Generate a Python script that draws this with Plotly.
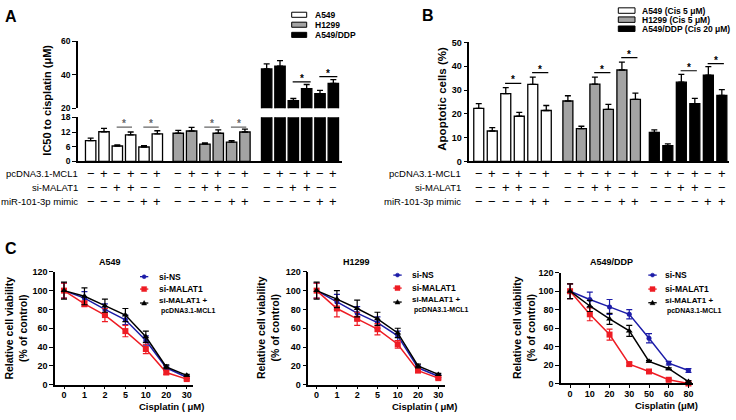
import plotly.graph_objects as go

W, H = 736, 420
F = "Arial, Liberation Sans, sans-serif"


def px(x):
    return x / W


def py(y):
    return 1 - y / H


# ---------------- data ----------------
# Panel A: IC50 to cisplatin (uM)
a_a549 = [8.5, 12.1, 6.3, 10.8, 5.9, 11.2]
a_a549_err = [1.0, 1.4, 0.5, 1.2, 0.5, 1.3]
a_h1299 = [11.5, 12.4, 7.1, 11.5, 7.9, 12.0]
a_h1299_err = [1.2, 1.5, 0.5, 1.4, 0.6, 1.2]
a_ddp = [43.5, 45.2, 24.5, 31.7, 28.7, 34.8]
a_ddp_err = [3.1, 3.3, 1.3, 2.5, 2.0, 2.3]

# Panel B: apoptotic cells (%)
b_a549 = [22.3, 12.8, 28.5, 19.0, 32.4, 21.4]
b_a549_err = [2.0, 1.4, 2.5, 1.6, 3.0, 2.1]
b_h1299 = [25.4, 13.8, 32.5, 21.9, 38.4, 26.1]
b_h1299_err = [2.2, 1.0, 2.9, 2.1, 3.3, 2.6]
b_ddp = [12.2, 6.7, 33.3, 24.3, 36.2, 27.7]
b_ddp_err = [1.1, 0.7, 3.3, 2.2, 3.6, 2.5]

# treatment rows
row_labels = ["pcDNA3.1-MCL1", "si-MALAT1", "miR-101-3p mimic"]
row_mcl1 = ["\u2212", "+", "\u2212", "+", "\u2212", "+"]
row_malat = ["\u2212", "\u2212", "+", "+", "\u2212", "\u2212"]
row_mir = ["\u2212", "\u2212", "\u2212", "\u2212", "+", "+"]

# Panel C: relative cell viability (% of control)
c_doses_ab = ["0", "1", "2", "5", "10", "20", "30"]
c_doses_ddp = ["0", "10", "20", "30", "50", "60", "80"]

c1_ns = [100, 92, 80, 69, 47, 18, 8]
c1_ns_err = [8, 7, 6, 5, 5, 2, 1.5]
c1_mal = [100, 86, 74, 57, 38, 13, 6]
c1_mal_err = [8, 3, 7, 6, 5, 2, 1]
c1_mcl = [100, 94, 84, 74, 51, 19, 10]
c1_mcl_err = [9, 9, 7, 7, 6, 2, 1]

c2_ns = [100, 88, 76, 66, 52, 18, 9]
c2_ns_err = [8, 8, 7, 6, 5, 2, 1.5]
c2_mal = [100, 81, 70, 59, 43, 15, 7]
c2_mal_err = [8, 9, 7, 6, 4, 2, 1]
c2_mcl = [100, 91, 81, 70, 55, 20, 11]
c2_mcl_err = [9, 9, 9, 7, 5, 2, 1]

c3_ns = [100, 91, 83, 75, 49, 22, 14]
c3_ns_err = [8, 8, 8, 5, 5, 2, 2]
c3_mal = [100, 75, 53, 21, 13, 4, 0]
c3_mal_err = [8, 7, 6, 2, 1, 1, 1]
c3_mcl = [100, 84, 70, 57, 24, 16, 2]
c3_mcl_err = [8, 6, 6, 6, 1, 1, 1]

# ---------------- figure ----------------
fig = go.Figure()
AX = dict(showline=True, linecolor="black", linewidth=1.5, showgrid=False,
          zeroline=False, ticks="outside", tickcolor="black", ticklen=4,
          tickwidth=1.3, tickfont=dict(family=F, size=9, color="black", weight="bold"))

groupA = [0, 6.57, 13.2]
groupB = [0, 6.6, 13.0]
white, gray, black = "white", "#a3a3a3", "black"


def bar(xs, ys, errs, color, xa, ya, width):
    kw = {}
    if errs is not None:
        kw["error_y"] = dict(type="data", array=errs, arrayminus=[0] * len(errs),
                             symmetric=False, color="black", thickness=1.3, width=3)
    return go.Bar(x=xs, y=ys, width=width, marker=dict(color=color, line=dict(color="black", width=1.3)),
                  xaxis=xa, yaxis=ya, showlegend=False, **kw)


def xs_for(off):
    return [off + i for i in range(6)]


# Panel A bars (lower segment y, upper segment y2)
fig.add_trace(bar(xs_for(groupA[0]), a_a549, a_a549_err, white, "x", "y", 0.78))
fig.add_trace(bar(xs_for(groupA[1]), a_h1299, a_h1299_err, gray, "x", "y", 0.78))
fig.add_trace(bar(xs_for(groupA[2]), a_ddp, None, black, "x", "y", 0.78))
fig.add_trace(bar(xs_for(groupA[2]), a_ddp, a_ddp_err, black, "x", "y2", 0.78))

# Panel B bars
fig.add_trace(bar(xs_for(groupB[0]), b_a549, b_a549_err, white, "x2", "y3", 0.74))
fig.add_trace(bar(xs_for(groupB[1]), b_h1299, b_h1299_err, gray, "x2", "y3", 0.74))
fig.add_trace(bar(xs_for(groupB[2]), b_ddp, b_ddp_err, black, "x2", "y3", 0.74))

BLUE, RED = "#1c1ca8", "#ee1c24"


def curve(xs, ys, errs, color, symbol, size, xa, ya):
    return go.Scatter(x=xs, y=ys, mode="lines+markers", xaxis=xa, yaxis=ya, cliponaxis=False,
                      line=dict(color=color, width=1.5),
                      marker=dict(symbol=symbol, size=size, color=color),
                      error_y=dict(type="data", array=errs, color=color, thickness=1.2, width=3),
                      showlegend=False)


for (xa, ya, doses, ns, nse, mal, male, mcl, mcle) in [
    ("x3", "y4", c_doses_ab, c1_ns, c1_ns_err, c1_mal, c1_mal_err, c1_mcl, c1_mcl_err),
    ("x4", "y5", c_doses_ab, c2_ns, c2_ns_err, c2_mal, c2_mal_err, c2_mcl, c2_mcl_err),
    ("x5", "y6", c_doses_ddp, c3_ns, c3_ns_err, c3_mal, c3_mal_err, c3_mcl, c3_mcl_err),
]:
    fig.add_trace(curve(doses, ns, nse, BLUE, "circle", 5, xa, ya))
    fig.add_trace(curve(doses, mal, male, RED, "square", 6, xa, ya))
    fig.add_trace(curve(doses, mcl, mcle, "black", "triangle-up", 6, xa, ya))

# ---------------- axes ----------------
noticks = dict(AX, ticks="", showticklabels=False)
CX = dict(AX, type="category", ticklen=3, ticklabelstandoff=-2)
fig.update_layout(
    xaxis=dict(noticks, domain=[px(78), px(342)], range=[-0.95, 18.85], anchor="y"),
    yaxis=dict(AX, domain=[py(160.3), py(115)], range=[0, 18], tickvals=[0, 6, 12, 18], anchor="x",
               tickfont=dict(family=F, size=8.5, color="black", weight="bold")),
    yaxis2=dict(AX, domain=[py(105.7), py(37.3)], range=[20, 60], tickvals=[20, 40, 60], anchor="x",
                tickfont=dict(family=F, size=8.5, color="black", weight="bold")),
    xaxis2=dict(noticks, domain=[px(469.3), px(729)], range=[-0.70, 18.53], anchor="y3"),
    yaxis3=dict(AX, domain=[py(160.3), py(38.3)], range=[0, 50], dtick=10, anchor="x2"),
    xaxis3=dict(CX, domain=[px(55), px(193.3)], range=[-0.44, 6.32], anchor="y4"),
    yaxis4=dict(AX, domain=[py(389), py(273.3)], range=[0, 120], dtick=20, anchor="x3"),
    xaxis4=dict(CX, domain=[px(308.3), px(445)], range=[-0.41, 6.33], anchor="y5"),
    yaxis5=dict(AX, domain=[py(389), py(273.3)], range=[0, 120], dtick=20, anchor="x4"),
    xaxis5=dict(CX, domain=[px(561), px(693)], range=[-0.46, 6.23], anchor="y6"),
    yaxis6=dict(AX, domain=[py(387.7), py(274.3)], range=[0, 120], dtick=20, anchor="x5"),
)

ann = []
shapes = []


def text(x, y, s, size=9, bold=True, xanchor="center", yanchor="middle", angle=0, color="black", **kw):
    ann.append(dict(x=x, y=y, xref=kw.pop("xref", "paper"), yref=kw.pop("yref", "paper"), text=s,
                    showarrow=False, xanchor=xanchor, yanchor=yanchor, textangle=angle,
                    font=dict(family=F, size=size, color=color, weight="bold" if bold else "normal"), **kw))


# panel letters
text(px(3), py(12), "A", size=16, xanchor="left")
text(px(420), py(11), "B", size=16, xanchor="left")
text(px(3), py(249), "C", size=16, xanchor="left")

# y-axis titles
text(px(47), py(98), "IC50 to cisplatin (\u03bcM)", size=11, angle=-90)
text(px(442), py(96), "Apoptotic cells (%)", size=11.5, angle=-90)
for cx in (16.5, 268, 524):
    text(px(cx), py(331), "Relative cell viability<br>(% of control)", size=10.5, angle=-90)

# C titles
text(px(110), py(263), "A549", size=9)
text(px(356.7), py(263), "H1299", size=9)
text(px(611.7), py(263), "A549/DDP", size=9)
text(px(171.7), py(411.5), "Cisplatin ( \u03bcM)", size=9.5)
text(px(424), py(411.5), "Cisplatin ( \u03bcM)", size=9.5)
text(px(666.7), py(410.5), "Cisplatin (\u03bcM)", size=9.5)

# treatment rows
rows_y = [172.7, 187.3, 201.3]
rows = [row_mcl1, row_malat, row_mir]
for (xa, groups, lab_x) in [("x", groupA, 80), ("x2", groupB, 462.7)]:
    for r, (lab, signs) in enumerate(zip(row_labels, rows)):
        text(px(lab_x), py(rows_y[r]), lab, size=9.5, bold=False, xanchor="right")
        for off in groups:
            for i, s in enumerate(signs):
                text(off + i, py(rows_y[r]), s, size=13, bold=False, xref=xa)

# legends for A and B
leg_A = ["A549", "H1299", "A549/DDP"]
leg_B = ["A549 (Cis 5 \u03bcM)", "H1299 (Cis 5 \u03bcM)", "A549/DDP (Cis 20 \u03bcM)"]
fills = [white, gray, black]
for i, (la, lb) in enumerate(zip(leg_A, leg_B)):
    ya = [10.0, 20.2, 30.6][i]
    shapes.append(dict(type="rect", xref="paper", yref="paper", x0=px(291.7), x1=px(306.7),
                       y0=py(ya + 2.6), y1=py(ya - 2.6), fillcolor=fills[i], line=dict(color="black", width=1)))
    text(px(313.3), py(ya), la, size=8.5, xanchor="left")
    yb = [5.7, 15.0, 24.3][i]
    shapes.append(dict(type="rect", xref="paper", yref="paper", x0=px(618.3), x1=px(635),
                       y0=py(yb + 2.8), y1=py(yb - 2.8), fillcolor=fills[i], line=dict(color="black", width=1)))
    text(px(640), py(yb), lb, size=8.5, xanchor="left")


# significance brackets
def bracket(xa, ya, x0, x1, y, color="black"):
    shapes.append(dict(type="line", xref=xa, yref=ya, x0=x0, x1=x1, y0=y, y1=y,
                       line=dict(color=color, width=1.2)))
    text((x0 + x1) / 2, y, "*", size=10, xref=xa, yref=ya, yanchor="bottom", yshift=-4, color=color)


for g in (0, 1):
    for i in (2, 4):
        x0 = groupA[g] + i - 0.05
        bracket("x", "y", x0, x0 + 1.15, 14.0, color="#666666")
bracket("x", "y2", groupA[2] + 2 - 0.05, groupA[2] + 3.3, 35.7)
bracket("x", "y2", groupA[2] + 4 - 0.05, groupA[2] + 5.3, 38.9)

b_br = [(0, 2, 32.8), (0, 4, 37.3), (1, 2, 37.3), (1, 4, 43.6), (2, 2, 38.1), (2, 4, 41.1)]
for g, i, y in b_br:
    x0 = groupB[g] + i - 0.05
    bracket("x2", "y3", x0, x0 + 1.2, y)

# C legends
leg_C = ["si-NS", "si-MALAT1", "si-MALAT1 +"]
for (mx0, mx1, tx, rys) in [(140, 148.3, 156.7, (278.3, 291, 305.3)),
                             (393.3, 401.7, 410, (276.7, 290, 304.3)),
                             (648.3, 656.7, 663.3, (276.7, 291, 305))]:
    cols = [BLUE, RED, "black"]
    mc = (mx0 + mx1) / 2
    for k, (lab, col, ry) in enumerate(zip(leg_C, cols, rys)):
        shapes.append(dict(type="line", xref="paper", yref="paper", x0=px(mx0), x1=px(mx1),
                           y0=py(ry), y1=py(ry), line=dict(color=col, width=1.3)))
        if k == 0:
            shapes.append(dict(type="circle", xref="paper", yref="paper", x0=px(mc - 2), x1=px(mc + 2),
                               y0=py(ry + 2), y1=py(ry - 2), fillcolor=col, line=dict(color=col, width=0.5)))
        elif k == 1:
            shapes.append(dict(type="rect", xref="paper", yref="paper", x0=px(mc - 2.5), x1=px(mc + 2.5),
                               y0=py(ry + 2.5), y1=py(ry - 2.5), fillcolor=col, line=dict(color=col, width=0.5)))
        else:
            path = "M {} {} L {} {} L {} {} Z".format(px(mc - 2.5), py(ry + 2), px(mc + 2.5), py(ry + 2),
                                                       px(mc), py(ry - 2.5))
            shapes.append(dict(type="path", xref="paper", yref="paper", path=path, fillcolor=col,
                               line=dict(color=col, width=0.5)))
        if k < 2:
            text(px(tx), py(ry), lab, size=8.5, xanchor="left")
        else:
            text(px(tx), py(ry + 3), lab + "<br><span style='font-size:7px'>\u00a0pcDNA3.1-MCL1</span>",
                 size=8, xanchor="left", align="left")

fig.update_layout(width=W, height=H, margin=dict(l=0, r=0, t=0, b=0), paper_bgcolor="white",
                  plot_bgcolor="rgba(0,0,0,0)", showlegend=False, barmode="overlay",
                  annotations=ann, shapes=shapes, font=dict(family=F, color="black"))

fig.write_html("out.html", config={"displayModeBar": False},
               post_script="document.body.style.margin='0px';")
